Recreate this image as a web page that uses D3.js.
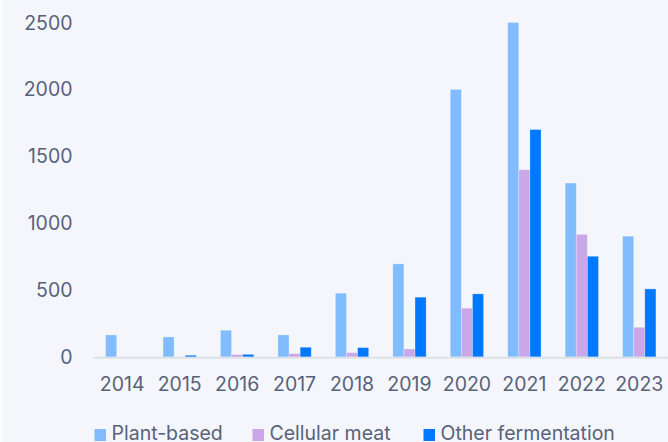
<!DOCTYPE html>
<html>
<head>
<meta charset="utf-8">
<script src="https://cdn.jsdelivr.net/npm/d3@7"></script>
<style>
	html, body { margin: 0; padding: 0; background: #f4f6fb; }
	svg { display: block; font-family: Inter, Lato, sans-serif; font-variant-numeric: proportional-nums; font-feature-settings: "pnum" 1; }
</style>
</head>
<body>
<svg id="chart" width="668" height="442"></svg>
<script>
const years = ['2014', '2015', '2016', '2017', '2018', '2019', '2020', '2021', '2022', '2023']
const seriesNames = ['Plant-based', 'Cellular meat', 'Other fermentation']
const plantBased = [165, 150, 200, 165, 477, 696, 2000, 2500, 1300, 903]
const cellularMeat = [0, 0, 18, 25, 33, 60, 365, 1400, 917, 222]
const otherFermentation = [0, 13, 20, 73, 70, 447, 472, 1700, 753, 509]
const yTicks = [0, 500, 1000, 1500, 2000, 2500]
const colors = ['#80bcff', '#c9a7e9', '#0078ff']

const width = 668
const height = 442
const margins = { top: 22.5, right: 0, bottom: 85, left: 93.5 }
const fontSize = '19.5px'
const textColor = '#58627a'

const svg = d3.select('#chart')

svg.append('rect').attr('width', width).attr('height', height).attr('fill', '#f4f6fb')
svg.append('rect').attr('width', 3).attr('height', height).attr('fill', '#fbfcfe')

const table = years.map((year, i) => ({
	year,
	values: [plantBased[i], cellularMeat[i], otherFermentation[i]]
}))

const x0 = d3.scaleBand().domain(years)
	.range([margins.left, width - margins.right])
	.paddingInner(0.42).paddingOuter(0.21)
const x1 = d3.scaleBand().domain(d3.range(seriesNames.length)).range([0, x0.bandwidth()])
const y = d3.scaleLinear().domain([0, 2500]).range([height - margins.bottom, margins.top])

// y labels, no axis line
svg.append('g').selectAll('text').data(yTicks)
	.enter().append('text')
	.attr('x', 72.5)
	.attr('y', d => y(d))
	.attr('dy', '0.36em')
	.attr('text-anchor', 'end')
	.attr('fill', textColor)
	.style('font-size', fontSize)
	.text(d => d)

// bars
const groups = svg.append('g').selectAll('g').data(table)
	.enter().append('g')
	.attr('transform', d => `translate(${x0(d.year)},0)`)

groups.selectAll('rect').data(d => d.values.map((v, i) => ({ v, i })))
	.enter().append('rect')
	.attr('x', d => x1(d.i))
	.attr('width', x1.bandwidth())
	.attr('y', d => y(d.v))
	.attr('height', d => y(0) - y(d.v))
	.attr('fill', d => colors[d.i])
	.attr('stroke', 'rgba(255,255,255,0.35)')
	.attr('stroke-width', 0.8)

// baseline
svg.append('line')
	.attr('x1', margins.left).attr('x2', width)
	.attr('y1', y(0) + 0.8).attr('y2', y(0) + 0.8)
	.attr('stroke', '#dde1e8').attr('stroke-width', 2)

// x axis labels
const xAxis = svg.append('g')
	.attr('transform', `translate(0, ${y(0)})`)
	.call(d3.axisBottom(x0).tickSize(0).tickPadding(20))
xAxis.select('.domain').remove()
xAxis.selectAll('text')
	.attr('fill', textColor)
	.style('font-size', fontSize)
	.style('font-family', 'Inter, Lato, sans-serif')

// legend
const legendX = [94.5, 252.5, 423.5]
const legend = svg.append('g').selectAll('g').data(seriesNames)
	.enter().append('g')
	.attr('transform', (d, i) => `translate(${legendX[i]}, 429)`)
legend.append('rect')
	.attr('width', 11.5).attr('height', 12)
	.attr('fill', (d, i) => colors[i])
legend.append('text')
	.attr('x', 17)
	.attr('y', 10.5)
	.attr('fill', textColor)
	.style('font-size', fontSize)
	.text(d => d)
</script>
</body>
</html>
